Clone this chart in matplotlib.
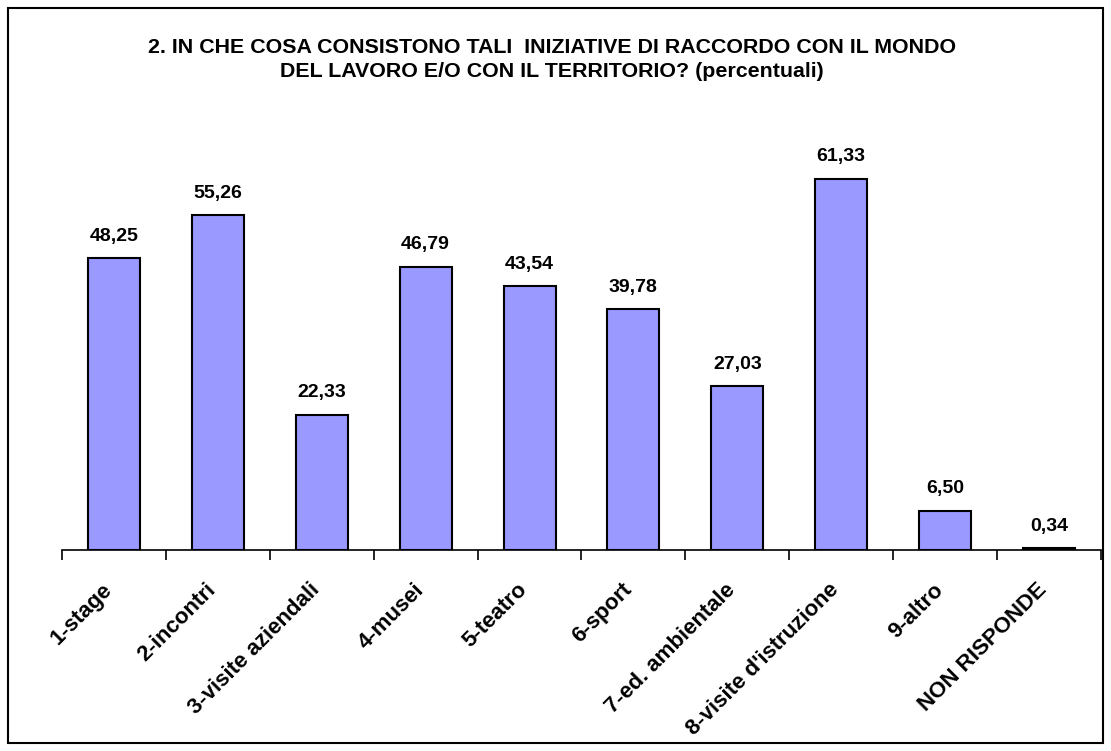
import matplotlib.pyplot as plt
from matplotlib.patches import Rectangle
from matplotlib.transforms import ScaledTranslation

categorie = ['1-stage', '2-incontri', '3-visite aziendali', '4-musei', '5-teatro',
             '6-sport', '7-ed. ambientale', "8-visite d'istruzione", '9-altro',
             'NON RISPONDE']
percentuali = [48.25, 55.26, 22.33, 46.79, 43.54, 39.78, 27.03, 61.33, 6.50, 0.34]

plt.rcParams['font.family'] = ['Liberation Sans', 'DejaVu Sans']

fig = plt.figure(figsize=(11.11, 7.51), dpi=100)
ax = fig.add_axes([0.0558, 0.2676, 0.9352, 0.5644])

x = range(len(categorie))
ax.bar(x, percentuali, width=0.5, color='#9999FF', edgecolor='black', linewidth=1.5)

# etichette dei valori sopra le barre
for xi, v in zip(x, percentuali):
    ax.text(xi, v + 2.2, f'{v:.2f}'.replace('.', ','), ha='center', va='bottom',
            fontsize=14, fontweight='bold')

ax.set_xlim(-0.5, len(categorie) - 0.5)
ax.set_ylim(0, 70)

# asse x con tacche tra le categorie
for s in ['top', 'right', 'left']:
    ax.spines[s].set_visible(False)
ax.spines['bottom'].set_linewidth(1.2)
ax.set_yticks([])
ax.set_xticks([i - 0.5 for i in range(len(categorie) + 1)], minor=False)
ax.set_xticklabels([])
ax.tick_params(axis='x', direction='out', length=7, width=1.2)
ax.set_xticks(list(x), minor=True)
ax.set_xticklabels(categorie, minor=True, rotation=45, ha='right',
                   rotation_mode='anchor', fontsize=16, fontweight='bold')
ax.tick_params(axis='x', which='minor', length=0, pad=21)
offset = ScaledTranslation(-9 / 72, 0, fig.dpi_scale_trans)
for lab in ax.get_xticklabels(minor=True):
    lab.set_transform(lab.get_transform() + offset)

fig.text(0.497, 0.921, '2. IN CHE COSA CONSISTONO TALI  INIZIATIVE DI RACCORDO CON IL MONDO\n'
         'DEL LAVORO E/O CON IL TERRITORIO? (percentuali)',
         ha='center', va='center', fontsize=15.4, fontweight='bold', linespacing=1.35)

# cornice esterna
fig.patches.append(Rectangle((8 / 1111, 8 / 751), 1095 / 1111, 735 / 751,
                             transform=fig.transFigure, fill=False,
                             edgecolor='black', linewidth=1.5))

fig.savefig('out.png', dpi=100)
